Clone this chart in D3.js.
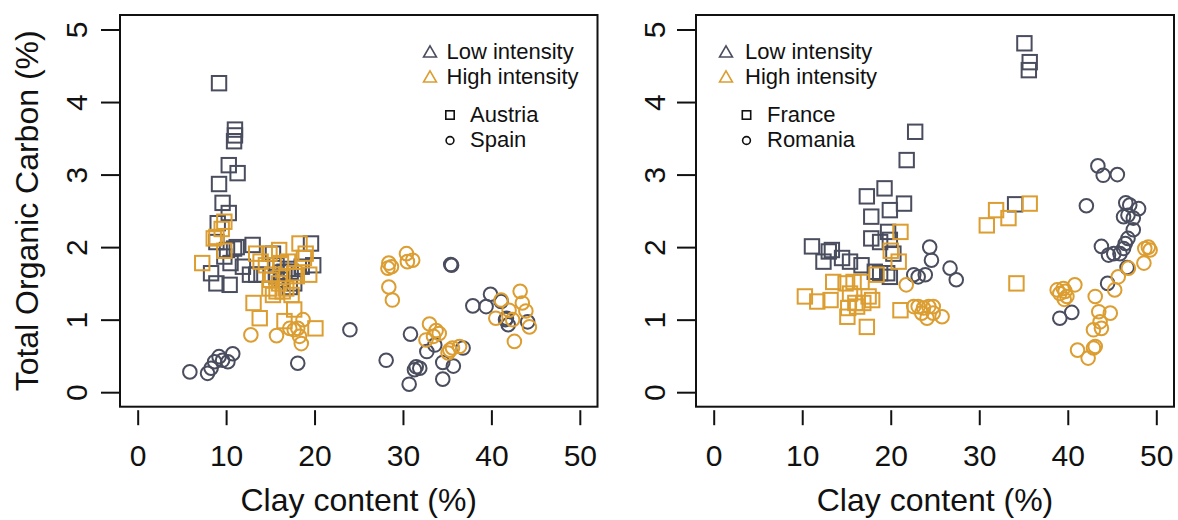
<!DOCTYPE html>
<html><head><meta charset="utf-8">
<script src="https://cdn.jsdelivr.net/npm/d3@7"></script>
<style>
html,body{margin:0;padding:0;background:#fff;}
svg{display:block;font-family:"Liberation Sans",Arial,Helvetica,sans-serif;}
</style></head>
<body>
<svg id="chart" width="1178" height="520"></svg>
<script>
// ---------- data (clay %, TOC %) ----------
const xTicks = [0, 10, 20, 30, 40, 50];
const yTicks = [0, 1, 2, 3, 4, 5];
const xTitle = "Clay content (%)";
const yTitle = "Total Organic Carbon (%)";
const intensityLabels = ["Low intensity", "High intensity"];
const leftCountries = ["Austria", "Spain"];
const rightCountries = ["France", "Romania"];

const austriaLow = [[9.2,4.26],[11.0,3.62],[11.0,3.54],[10.9,3.46],[10.3,3.13],[11.3,3.02],[9.2,2.87],[9.6,2.61],[10.3,2.47],[9.05,2.33],[8.9,2.07],[10.1,1.96],[10.9,1.98],[9.8,1.87],[10.5,1.78],[11.2,2.0],[8.3,1.64],[8.9,1.50],[10.4,1.48],[13.0,2.03],[12.7,1.62],[13.4,1.62],[14.0,1.62],[11.9,1.73],[15.3,1.91],[15.7,1.75],[15.7,1.59],[16.2,1.65],[16.6,1.66],[17.0,1.70],[17.3,1.66],[17.7,1.50],[18.55,1.73],[19.6,2.05],[19.85,1.75],[16.3,1.55],[17.2,1.45]];
const austriaHigh = [[9.8,2.35],[9.5,2.25],[8.9,2.14],[8.6,2.12],[7.3,1.78],[9.8,1.95],[13.4,1.91],[14.9,1.91],[16.0,1.96],[14.5,1.75],[18.3,2.05],[19.0,1.91],[19.4,1.62],[17.7,1.64],[18.8,1.85],[14.9,1.43],[15.7,1.39],[16.4,1.39],[15.3,1.34],[16.8,1.43],[17.4,1.34],[16.0,1.50],[15.0,1.55],[13.1,1.23],[13.8,1.02],[17.7,1.14],[16.6,0.98],[20.1,0.88],[16.2,1.78],[17.0,1.80],[18.0,1.60],[13.9,1.80],[15.2,1.62]];
const spainLow = [[5.9,0.28],[7.9,0.26],[8.3,0.33],[8.7,0.42],[9.2,0.49],[9.6,0.44],[10.2,0.42],[10.75,0.53],[18.1,0.40],[24.0,0.86],[30.85,0.80],[28.1,0.44],[31.5,0.35],[31.9,0.33],[31.3,0.31],[30.7,0.11],[32.7,0.56],[33.6,0.65],[34.5,0.41],[35.7,0.36],[34.5,0.18],[36.8,0.61],[35.5,1.75],[35.4,1.76],[37.9,1.19],[39.4,1.18],[39.9,1.35],[41.1,1.25],[41.7,1.02],[41.9,0.93],[44.1,0.97],[41.6,1.0]];
const spainHigh = [[12.8,0.79],[15.7,0.78],[17.2,0.88],[17.7,0.86],[18.1,0.88],[18.5,0.67],[18.3,0.77],[18.7,1.0],[28.4,1.78],[28.3,1.71],[28.7,1.73],[30.4,1.91],[31.1,1.82],[30.5,1.80],[28.4,1.45],[28.8,1.27],[33.0,0.94],[33.75,0.85],[34.1,0.81],[33.45,0.77],[32.6,0.72],[35.3,0.58],[35.6,0.61],[36.4,0.63],[35.1,0.54],[43.25,1.39],[43.5,1.23],[43.9,1.12],[44.3,0.90],[40.5,1.02],[41.1,1.27],[42.0,1.13],[42.6,0.70],[42.4,1.0]];
const franceLow = [[35.1,4.81],[35.7,4.55],[35.6,4.44],[22.76,3.59],[21.8,3.20],[19.3,2.81],[17.3,2.70],[21.5,2.60],[19.9,2.51],[17.8,2.42],[19.7,2.21],[17.8,2.12],[18.8,2.07],[19.9,2.10],[11.1,2.01],[13.0,1.94],[13.35,1.96],[12.4,1.80],[14.5,1.85],[15.4,1.80],[16.7,1.75],[20.3,1.91],[18.2,1.66],[18.8,1.64],[19.6,1.64],[19.9,1.59],[34.05,2.59]];
const franceHigh = [[21.1,2.21],[20.9,1.80],[18.4,1.62],[13.5,1.52],[14.9,1.50],[15.8,1.52],[16.7,1.52],[10.3,1.32],[11.7,1.25],[13.2,1.27],[15.4,1.36],[16.0,1.23],[15.2,1.16],[17.5,1.32],[17.9,1.27],[16.9,1.23],[15.1,1.04],[17.3,0.90],[16.2,1.18],[21.1,1.13],[30.85,2.30],[31.9,2.51],[33.3,2.40],[35.7,2.60],[34.2,1.50],[20.0,1.95]];
const romaniaLow = [[24.4,2.0],[24.6,1.82],[26.7,1.71],[27.4,1.55],[22.6,1.62],[23.1,1.59],[23.9,1.62],[43.4,3.12],[44.0,2.99],[45.6,3.0],[42.1,2.57],[46.55,2.61],[47.0,2.58],[48.0,2.53],[46.3,2.42],[46.8,2.44],[47.4,2.40],[47.4,2.24],[46.8,2.12],[46.5,2.05],[46.3,1.98],[45.9,1.91],[43.8,2.01],[44.6,1.89],[45.2,1.91],[46.7,1.72],[44.5,1.50],[39.1,1.02],[40.45,1.10]];
const romaniaHigh = [[21.75,1.48],[22.6,1.18],[23.1,1.18],[23.7,1.16],[24.3,1.18],[24.8,1.18],[24.1,1.02],[24.8,1.09],[25.8,1.04],[23.5,1.09],[49.1,2.0],[48.7,1.98],[49.3,1.96],[48.6,1.78],[46.85,1.71],[45.7,1.59],[45.3,1.41],[38.8,1.41],[39.1,1.36],[39.7,1.39],[39.9,1.32],[40.8,1.48],[39.5,1.43],[43.1,1.32],[43.5,1.11],[44.8,1.09],[43.65,0.97],[43.8,0.88],[42.9,0.86],[41.1,0.58],[42.3,0.47],[42.9,0.61],[43.1,0.63],[39.6,1.28]];

// ---------- style ----------
const COL_LOW = "#4a4d5e";
const COL_HIGH = "#dc9d31";
const FONT_TICK = 30, FONT_TITLE = 32, FONT_LEG = 22;

const svg = d3.select("#chart");

const panels = [
  { left: 120, right: 597.5, squares: [austriaLow, austriaHigh], circles: [spainLow, spainHigh],
    countries: leftCountries, yTitle: true, ylabX: 87,
    leg: { triX: 430, triTextX: 446.5, sqX: 450, sqTextX: 470 } },
  { left: 696, right: 1174, squares: [franceLow, franceHigh], circles: [romaniaLow, romaniaHigh],
    countries: rightCountries, yTitle: false, ylabX: 665,
    leg: { triX: 726, triTextX: 745, sqX: 746.5, sqTextX: 767 } }
];
const boxTop = 15, boxBottom = 406.7;

panels.forEach(p => {
  const x = d3.scaleLinear().domain([-2, 52]).range([p.left, p.right]);
  const y = d3.scaleLinear().domain([-0.2, 5.2]).range([boxBottom, boxTop]);
  const g = svg.append("g");

  const drawSquares = (data, col) => g.append("g").selectAll("rect").data(data).join("rect")
      .attr("x", d => x(d[0]) - 7.2).attr("y", d => y(d[1]) - 7.2)
      .attr("width", 14.4).attr("height", 14.4)
      .attr("fill", "none").attr("stroke", col).attr("stroke-width", 2);
  const drawCircles = (data, col) => g.append("g").selectAll("circle").data(data).join("circle")
      .attr("cx", d => x(d[0])).attr("cy", d => y(d[1])).attr("r", 6.8)
      .attr("fill", "none").attr("stroke", col).attr("stroke-width", 2);

  drawSquares(p.squares[0], COL_LOW);
  drawSquares(p.squares[1], COL_HIGH);
  drawCircles(p.circles[0], COL_LOW);
  drawCircles(p.circles[1], COL_HIGH);

  // box
  g.append("rect").attr("x", p.left).attr("y", boxTop)
    .attr("width", p.right - p.left).attr("height", boxBottom - boxTop)
    .attr("fill", "none").attr("stroke", "#111").attr("stroke-width", 2);

  // x axis ticks (outside box, no axis line)
  const xAxis = d3.axisBottom(x).tickValues(xTicks).tickSize(15).tickPadding(0).tickFormat(d3.format("d"));
  const xg = g.append("g").attr("transform", `translate(0,${boxBottom + 3.5})`).call(xAxis);
  xg.select(".domain").remove();
  xg.selectAll(".tick line").attr("stroke", "#111").attr("stroke-width", 2);
  xg.selectAll(".tick text").attr("font-size", FONT_TICK).attr("fill", "#111")
    .attr("font-family", "Liberation Sans, Arial, sans-serif")
    .attr("dy", null).attr("y", 466.5 - boxBottom - 3.5);

  // y axis ticks
  const yAxis = d3.axisLeft(y).tickValues(yTicks).tickSize(19).tickFormat(d3.format("d"));
  const yg = g.append("g").attr("transform", `translate(${p.left},0)`).call(yAxis);
  yg.select(".domain").remove();
  yg.selectAll(".tick line").attr("stroke", "#111").attr("stroke-width", 2);
  yg.selectAll(".tick text").attr("font-size", FONT_TICK).attr("fill", "#111")
    .attr("font-family", "Liberation Sans, Arial, sans-serif")
    .attr("x", null).attr("dy", null)
    .attr("text-anchor", "middle")
    .attr("transform", `translate(${p.ylabX - p.left},0) rotate(-90)`);

  // x title
  g.append("text").attr("x", (p.left + p.right) / 2).attr("y", 511)
    .attr("text-anchor", "middle").attr("font-size", FONT_TITLE).attr("fill", "#111").text(xTitle);

  if (p.yTitle) {
    g.append("text").attr("transform", `translate(38,${(boxTop + boxBottom) / 2}) rotate(-90)`)
      .attr("text-anchor", "middle").attr("font-size", FONT_TITLE).attr("fill", "#111").text(yTitle);
  }

  // legend
  const L = p.leg;
  const tri = d3.symbol().type(d3.symbolTriangle).size(72);
  [[COL_LOW, 53.3, 58.6], [COL_HIGH, 78.3, 83.5]].forEach((r, i) => {
    g.append("path").attr("d", tri()).attr("transform", `translate(${L.triX},${r[1]})`)
      .attr("fill", "none").attr("stroke", r[0]).attr("stroke-width", 1.6);
    g.append("text").attr("x", L.triTextX).attr("y", r[2]).attr("font-size", FONT_LEG)
      .attr("fill", "#111").text(intensityLabels[i]);
  });
  g.append("rect").attr("x", L.sqX - 4.2).attr("y", 115 - 4.2).attr("width", 8.4).attr("height", 8.4)
    .attr("fill", "none").attr("stroke", "#111").attr("stroke-width", 1.6);
  g.append("text").attr("x", L.sqTextX).attr("y", 122.2).attr("font-size", FONT_LEG).attr("fill", "#111").text(p.countries[0]);
  g.append("circle").attr("cx", L.sqX).attr("cy", 140.5).attr("r", 3.9)
    .attr("fill", "none").attr("stroke", "#111").attr("stroke-width", 1.6);
  g.append("text").attr("x", L.sqTextX).attr("y", 147.3).attr("font-size", FONT_LEG).attr("fill", "#111").text(p.countries[1]);
});
</script>
</body></html>
